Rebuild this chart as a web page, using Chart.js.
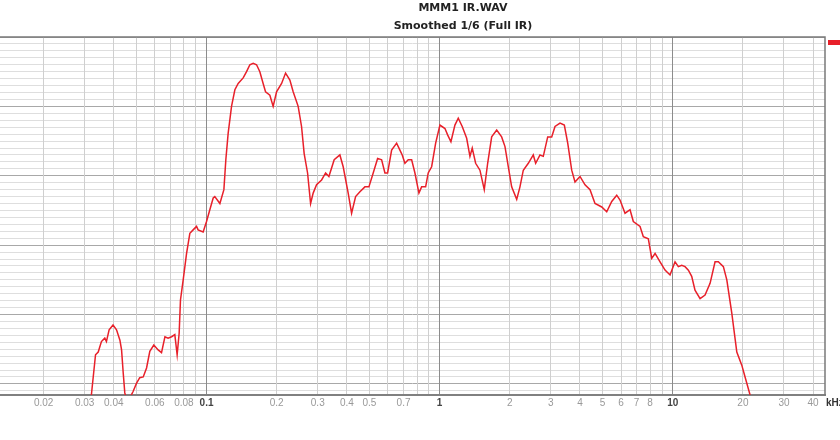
<!DOCTYPE html>
<html>
<head>
<meta charset="utf-8">
<script src="https://cdn.jsdelivr.net/npm/chart.js@4/dist/chart.umd.min.js"></script>
<style>
  html, body { margin: 0; padding: 0; background: #fff; }
  #wrap { width: 840px; height: 440px; position: relative; }
</style>
</head>
<body>
<div id="wrap"><canvas id="freqChart"></canvas></div>
<script>
// frequency response (kHz / dB)
const freqKHz = [
  0.0319, 0.0334, 0.0343, 0.0354, 0.0366, 0.0372, 0.0382, 0.0397, 0.0411, 0.0425, 0.0432, 0.0439, 0.0446, 0.0455,
  0.0469, 0.0484, 0.0501, 0.0517, 0.0535, 0.0553, 0.0571, 0.0594, 0.0620, 0.0641, 0.0663, 0.0684, 0.0708, 0.0731,
  0.0748, 0.0763, 0.0773, 0.0794, 0.0821, 0.0848, 0.0876, 0.0906, 0.0920, 0.0967, 0.100, 0.1033, 0.1068, 0.1085,
  0.1141, 0.1187, 0.1210, 0.1238, 0.1280, 0.1323, 0.1367, 0.1436, 0.1485, 0.1534, 0.1585, 0.1639, 0.1693, 0.1749,
  0.1791, 0.1869, 0.1931, 0.1997, 0.2099, 0.2183, 0.2278, 0.2353, 0.2472, 0.2556, 0.2623, 0.2713, 0.2795, 0.2867,
  0.2965, 0.3116, 0.3242, 0.3349, 0.3529, 0.3733, 0.3857, 0.4052, 0.4191, 0.4360, 0.4550, 0.4780, 0.4973, 0.5188,
  0.5419, 0.5638, 0.5825, 0.5981, 0.6223, 0.6538, 0.6754, 0.6910, 0.7097, 0.7333, 0.7584, 0.7834, 0.8150, 0.8370,
  0.8707, 0.8934, 0.9241, 0.9614, 1.003, 1.054, 1.082, 1.118, 1.163, 1.202, 1.250, 1.306, 1.349, 1.380,
  1.427, 1.489, 1.554, 1.607, 1.672, 1.757, 1.845, 1.907, 1.970, 2.037, 2.141, 2.211, 2.285, 2.401,
  2.522, 2.582, 2.695, 2.784, 2.908, 3.025, 3.126, 3.284, 3.427, 3.544, 3.686, 3.808, 4.001, 4.204,
  4.417, 4.640, 4.959, 5.210, 5.474, 5.751, 5.941, 6.242, 6.559, 6.775, 7.240, 7.479, 7.858, 8.127,
  8.398, 8.822, 9.268, 9.736, 10.23, 10.57, 10.93, 11.29, 11.67, 12.06, 12.46, 13.10, 13.76, 14.46,
  15.19, 15.69, 16.49, 17.06, 17.92, 18.83, 19.78, 20.43, 21.47, 21.89
];
const levelDb = [
  47.7, 54.2, 54.6, 56.1, 56.6, 56.1, 57.8, 58.5, 57.8, 56.3, 54.9, 51.6, 48.7, 47.7,
  48.0, 48.9, 50.1, 50.9, 51.0, 52.3, 54.7, 55.6, 54.9, 54.5, 56.8, 56.6, 56.8, 57.1,
  54.2, 57.3, 62.1, 65.0, 68.8, 71.7, 72.2, 72.7, 72.2, 71.9, 73.4, 75.1, 76.8, 77.0,
  76.0, 78.0, 82.3, 86.1, 90.0, 92.4, 93.3, 94.1, 95.0, 96.0, 96.2, 96.0, 95.0, 93.3,
  92.1, 91.6, 90.0, 92.1, 93.3, 94.8, 93.8, 92.1, 90.0, 87.1, 83.2, 80.4, 76.0, 77.5,
  78.7, 79.4, 80.4, 79.9, 82.3, 83.0, 81.3, 77.5, 74.6, 77.0, 77.7, 78.4, 78.4, 80.4,
  82.5, 82.3, 80.4, 80.4, 83.7, 84.7, 83.7, 83.0, 81.8, 82.3, 82.3, 80.4, 77.5, 78.4,
  78.4, 80.4, 81.3, 84.7, 87.3, 86.8, 85.9, 84.9, 87.3, 88.3, 87.1, 85.4, 82.8, 84.0,
  81.8, 80.8, 78.0, 81.8, 85.6, 86.6, 85.6, 84.2, 81.3, 78.4, 76.6, 78.4, 80.8, 81.8,
  83.0, 81.8, 83.0, 82.8, 85.6, 85.6, 87.1, 87.6, 87.3, 84.7, 80.8, 79.1, 79.9, 78.7,
  78.0, 76.0, 75.5, 74.8, 76.3, 77.2, 76.5, 74.6, 75.1, 73.4, 72.7, 71.2, 70.9, 68.1,
  68.8, 67.6, 66.4, 65.7, 67.6, 66.9, 67.1, 66.9, 66.4, 65.5, 63.5, 62.3, 62.8, 64.5,
  67.6, 67.6, 66.9, 65.0, 60.2, 54.6, 52.7, 51.0, 48.4, 47.5
];

// x grid positions and their labels ('' = grid line only)
const xTickValues = [0.02, 0.03, 0.04, 0.05, 0.06, 0.07, 0.08, 0.09, 0.1, 0.2, 0.3, 0.4, 0.5, 0.6, 0.7, 0.8, 0.9,
  1, 2, 3, 4, 5, 6, 7, 8, 9, 10, 20, 30, 40];
const xTickLabels = ['0.02', '0.03', '0.04', '', '0.06', '', '0.08', '', '0.1', '0.2', '0.3', '0.4', '0.5', '', '0.7', '', '',
  '1', '2', '3', '4', '5', '6', '7', '8', '', '10', '20', '30', '40'];
const decades = [0.1, 1, 10];

const titleLines = ['MMM1 IR.WAV', 'Smoothed 1/6 (Full IR)'];
const unitLabel = 'kHz';

const yTicks = [];
for (let v = 49; v <= 100; v++) yTicks.push(v);

const isDecade = v => decades.some(d => Math.abs(d - v) < 1e-9);

// titles, frame, legend swatch and unit label
const decorPlugin = {
  id: 'decor',
  afterDraw(chart) {
    const ctx = chart.ctx;
    const a = chart.chartArea;
    ctx.save();
    ctx.strokeStyle = '#7a7a7a';
    ctx.lineWidth = 1.5;
    ctx.beginPath();
    ctx.moveTo(a.left, a.top);
    ctx.lineTo(a.right, a.top);
    ctx.lineTo(a.right, a.bottom);
    ctx.stroke();

    ctx.fillStyle = '#222';
    ctx.textAlign = 'center';
    ctx.textBaseline = 'middle';
    ctx.font = 'bold 11px "DejaVu Sans"';
    ctx.fillText(titleLines[0], 463, 8);
    ctx.fillText(titleLines[1], 463, 26);

    ctx.fillStyle = '#e8202a';
    ctx.fillRect(828, 40, 12, 5);

    ctx.fillStyle = '#333';
    ctx.textAlign = 'left';
    ctx.font = 'bold 10px "Liberation Sans"';
    ctx.fillText(unitLabel, 826, 403);
    ctx.restore();
  }
};

const ctx = document.getElementById('freqChart').getContext('2d');
new Chart(ctx, {
  type: 'line',
  data: {
    datasets: [{
      label: titleLines[0],
      data: freqKHz.map((f, i) => ({ x: f, y: levelDb[i] })),
      borderColor: '#e8202a',
      borderWidth: 1.5,
      pointRadius: 0,
      tension: 0,
      fill: false
    }]
  },
  options: {
    responsive: true,
    maintainAspectRatio: false,
    animation: false,
    layout: { padding: { top: 37, right: 15, left: 0, bottom: 0 } },
    plugins: {
      legend: { display: false },
      title: { display: false },
      tooltip: { enabled: false }
    },
    scales: {
      x: {
        type: 'logarithmic',
        min: 0.013,
        max: 45,
        afterBuildTicks: s => { s.ticks = xTickValues.map(v => ({ value: v })); },
        afterFit: s => { s.height = 45; },
        ticks: {
          autoSkip: false,
          maxRotation: 0,
          padding: 2,
          callback: (value, i) => xTickLabels[i],
          color: c => isDecade(c.tick.value) ? '#444' : '#999',
          font: c => ({ family: '"Liberation Sans", Arial', size: 10, weight: isDecade(c.tick.value) ? 'bold' : 'normal' })
        },
        grid: {
          z: -1,
          drawTicks: false,
          color: c => (c.tick && isDecade(c.tick.value)) ? '#8c8c8c' : '#cfcfcf',
          lineWidth: 1
        },
        border: { color: '#808080', width: 2 }
      },
      y: {
        min: 48.4,
        max: 100,
        afterBuildTicks: s => { s.ticks = yTicks.map(v => ({ value: v })); },
        afterFit: s => { s.width = 0; },
        ticks: { display: false },
        grid: {
          z: -2,
          drawTicks: false,
          color: c => (c.tick && c.tick.value % 10 === 0) ? '#a8a8a8' : '#dedede',
          lineWidth: 1
        },
        border: { display: false }
      }
    }
  },
  plugins: [decorPlugin]
});
</script>
</body>
</html>
